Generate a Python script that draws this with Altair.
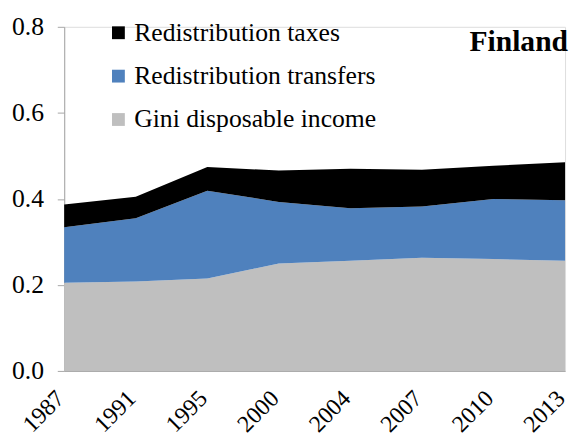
import altair as alt
import pandas as pd

years = ["1987", "1991", "1995", "2000", "2004", "2007", "2010", "2013"]
gini_disposable = [0.205, 0.208, 0.215, 0.250, 0.256, 0.263, 0.260, 0.256]
transfers = [0.129, 0.147, 0.204, 0.143, 0.122, 0.119, 0.140, 0.141]
taxes = [0.053, 0.050, 0.055, 0.073, 0.092, 0.086, 0.077, 0.088]

series_names = ["Redistribution taxes", "Redistribution transfers", "Gini disposable income"]
series_colors = ["#000000", "#4F81BD", "#BFBFBF"]
stack_order = {"Gini disposable income": 0, "Redistribution transfers": 1, "Redistribution taxes": 2}

rows = []
for name, vals in [("Gini disposable income", gini_disposable),
                   ("Redistribution transfers", transfers),
                   ("Redistribution taxes", taxes)]:
    for y, v in zip(years, vals):
        rows.append({"year": y, "value": v, "series": name, "ord": stack_order[name]})
df = pd.DataFrame(rows)

FONT = "Liberation Serif"

area = alt.Chart(df).mark_area(opacity=1).encode(
    x=alt.X("year:O", sort=years, scale=alt.Scale(type="point", padding=0),
            axis=alt.Axis(title=None, labelAngle=315, labelFontSize=24, labelFont=FONT,
                          labelColor="#000000", ticks=False, domainColor="#A6A6A6",
                          labelPadding=24, labelOffset=-4, labelAlign="right", labelBaseline="middle")),
    y=alt.Y("value:Q", stack="zero", scale=alt.Scale(domain=[0, 0.8], nice=False),
            axis=alt.Axis(title=None, values=[0, 0.2, 0.4, 0.6, 0.8], format=".1f",
                          labelFontSize=26, labelFont=FONT, labelColor="#000000",
                          grid=False, tickSize=7, tickColor="#A6A6A6", domainColor="#A6A6A6",
                          labelPadding=14)),
    color=alt.Color("series:N", scale=alt.Scale(domain=series_names, range=series_colors),
                    legend=alt.Legend(title=None, orient="none", legendX=42, legendY=-7,
                                      symbolType="square", symbolSize=169, symbolStrokeWidth=0,
                                      symbolOpacity=1, labelLimit=500,
                                      labelFontSize=26, labelFont=FONT, labelColor="#000000",
                                      rowPadding=18, labelOffset=3)),
    order=alt.Order("ord:Q", sort="ascending"),
)

title = alt.Chart(pd.DataFrame({"t": ["Finland"]})).mark_text(
    align="right", baseline="alphabetic", fontSize=30, fontWeight="bold", font=FONT, color="#000000"
).encode(x=alt.value(511), y=alt.value(25), text="t:N")

chart = alt.layer(area, title).properties(
    width=508, height=349,
    autosize=alt.AutoSizeParams(type="none"),
    padding={"left": 57, "top": 16, "right": 4, "bottom": 70},
).configure_view(stroke=None).configure(font=FONT)

chart.save("out.html", embed_options={"renderer": "svg", "actions": False})
